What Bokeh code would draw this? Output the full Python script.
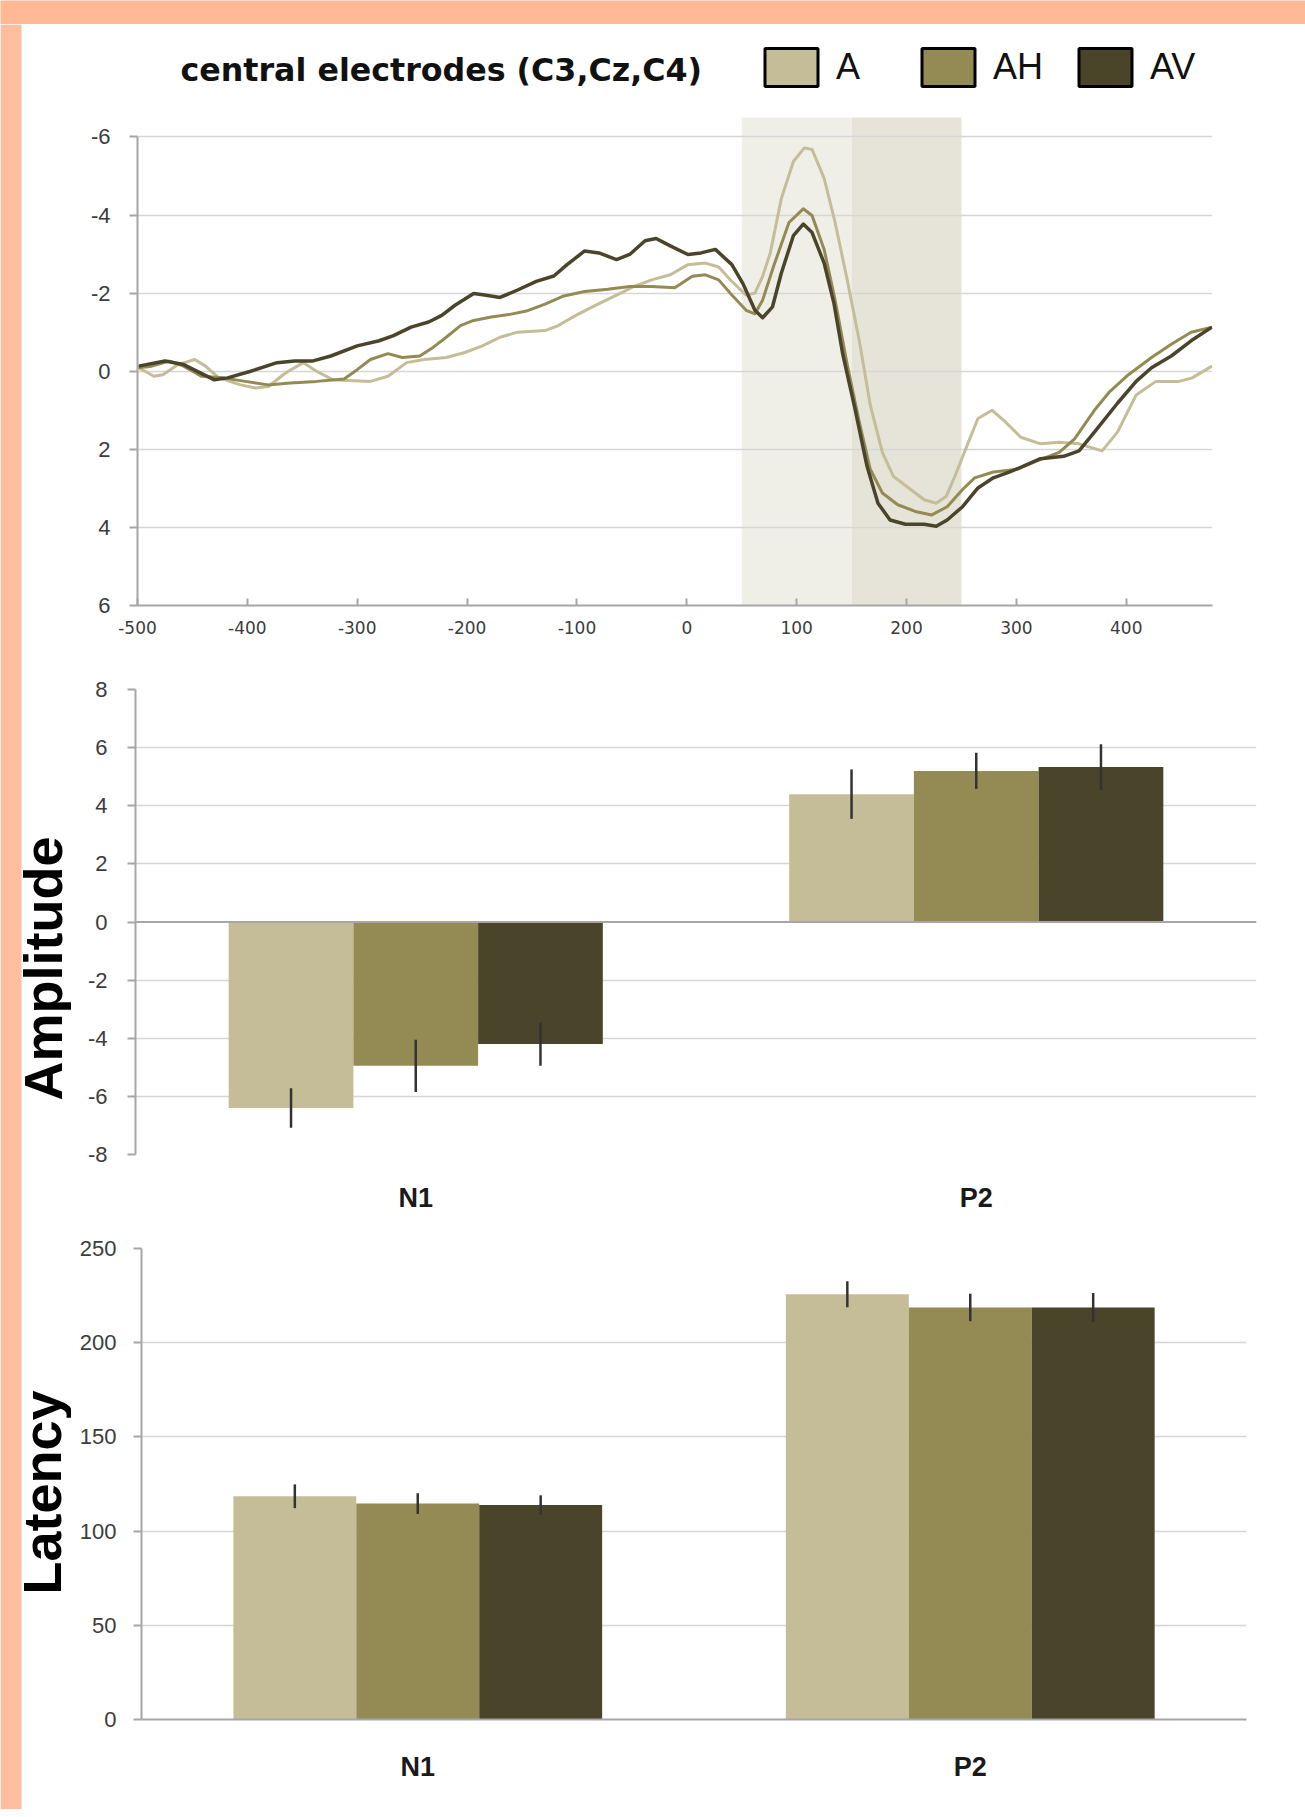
from math import pi
from bokeh.plotting import figure
from bokeh.models import (Range1d, FactorRange, FixedTicker, BoxAnnotation, Label,
                          Span, ColumnDataSource)
from bokeh.transform import dodge
from bokeh.layouts import column, row
from bokeh.embed import file_html
from bokeh.resources import INLINE

# ---------------- data ----------------
conditions = ["A", "AH", "AV"]
components = ["N1", "P2"]
chart_title = "central electrodes (C3,Cz,C4)"

# ERP waveforms (ms, microvolts; negative plotted up)
erp_t_A = [-499, -485, -477, -463, -448, -438, -426, -406, -393, -381, -365, -349, -337, -322, -308,
           -288, -272, -255, -239, -219, -202, -186, -170, -154, -129, -117, -101, -85, -64, -48,
           -32, -15, 1, 17, 29, 41, 54, 62, 69, 76, 86, 97, 107, 114, 125, 135, 146, 157, 167,
           178, 188, 202, 216, 227, 236, 244, 255, 265, 278, 290, 304, 322, 339, 357, 378, 392,
           409, 427, 448, 460, 478]
erp_v_A = [-0.09, 0.13, 0.09, -0.17, -0.30, -0.13, 0.17, 0.35, 0.43, 0.39, 0.04, -0.22, 0.0, 0.22, 0.24,
           0.26, 0.13, -0.22, -0.30, -0.35, -0.48, -0.65, -0.87, -1.00, -1.04, -1.17, -1.43, -1.66, -1.95, -2.17,
           -2.34, -2.47, -2.73, -2.77, -2.67, -2.30, -1.95, -2.00, -2.43, -3.03, -4.42, -5.37, -5.72, -5.68, -4.94,
           -3.81, -2.34, -0.78, 0.87, 2.08, 2.69, 2.99, 3.29, 3.38, 3.21, 2.69, 1.91, 1.21, 1.00, 1.30,
           1.69, 1.86, 1.82, 1.86, 2.04, 1.56, 0.61, 0.26, 0.26, 0.17, -0.13]

erp_t_AH = [-499, -487, -471, -458, -442, -422, -402, -381, -361, -337, -312, -300, -288, -272, -259,
            -243, -231, -219, -206, -194, -178, -162, -146, -129, -113, -93, -72, -52, -32, -11,
            5, 17, 29, 41, 54, 62, 69, 79, 93, 106, 114, 125, 135, 146, 157, 167, 178, 192, 209,
            223, 237, 251, 262, 279, 301, 318, 339, 353, 371, 385, 402, 423, 441, 459, 478]
erp_v_AH = [-0.09, -0.13, -0.26, -0.13, 0.13, 0.17, 0.26, 0.35, 0.30, 0.26, 0.20, -0.04, -0.30, -0.45, -0.35,
            -0.39, -0.61, -0.87, -1.17, -1.30, -1.39, -1.45, -1.54, -1.72, -1.92, -2.04, -2.10, -2.17, -2.17, -2.14,
            -2.43, -2.47, -2.34, -1.95, -1.56, -1.47, -1.82, -2.69, -3.81, -4.16, -3.99, -3.12, -1.82, -0.17, 1.30,
            2.51, 3.12, 3.42, 3.60, 3.68, 3.47, 3.03, 2.73, 2.58, 2.51, 2.30, 2.08, 1.73, 1.00, 0.52,
            0.09, -0.35, -0.69, -1.00, -1.13]

erp_t_AV = [-499, -475, -458, -430, -418, -397, -373, -357, -341, -324, -300, -280, -267, -251, -235,
            -223, -211, -194, -184, -170, -154, -137, -121, -109, -93, -80, -64, -52, -38, -28,
            -15, 1, 13, 26, 41, 51, 62, 69, 78, 86, 97, 106, 114, 125, 134, 142, 153, 164, 174,
            185, 199, 216, 227, 237, 251, 265, 279, 294, 308, 322, 343, 357, 371, 392, 409, 423,
            441, 459, 478]
erp_v_AV = [-0.13, -0.26, -0.17, 0.22, 0.17, 0.0, -0.22, -0.26, -0.26, -0.39, -0.65, -0.78, -0.91, -1.13, -1.26,
            -1.43, -1.69, -1.99, -1.95, -1.89, -2.08, -2.30, -2.44, -2.73, -3.08, -3.03, -2.86, -2.99, -3.34, -3.40,
            -3.21, -2.99, -3.03, -3.12, -2.73, -2.25, -1.56, -1.37, -1.65, -2.51, -3.47, -3.77, -3.55, -2.77, -1.73,
            -0.43, 0.95, 2.43, 3.38, 3.81, 3.92, 3.92, 3.97, 3.81, 3.47, 2.99, 2.73, 2.58, 2.41, 2.24,
            2.18, 2.04, 1.56, 0.82, 0.26, -0.09, -0.39, -0.78, -1.13]

# analysis windows (ms)
window_starts = [50, 150]
window_ends = [150, 250]

erp_x_ticks = [-500, -400, -300, -200, -100, 0, 100, 200, 300, 400]
erp_y_ticks = [-6, -4, -2, 0, 2, 4, 6]

# Amplitude (microvolts)
amp_A = [-6.4, 4.4]
amp_AH = [-4.95, 5.2]
amp_AV = [-4.2, 5.33]
amp_err_A = [0.68, 0.85]
amp_err_AH = [0.9, 0.62]
amp_err_AV = [0.75, 0.79]
amp_ticks = [-8, -6, -4, -2, 0, 2, 4, 6, 8]

# Latency (ms)
lat_A = [118.5, 225.7]
lat_AH = [114.6, 218.7]
lat_AV = [113.8, 218.7]
lat_err_A = [6.3, 6.9]
lat_err_AH = [5.5, 7.3]
lat_err_AV = [5.2, 7.7]
lat_ticks = [0, 50, 100, 150, 200, 250]

# ---------------- style ----------------
ORANGE_TOP = "#FFB994"
ORANGE_LEFT = "#FFBE9E"
COLORS = ["#C4BD97", "#948A54", "#4A452A"]
LINE_W = [3, 3, 3.5]
SHADES = ["#F0EFE7", "#E6E4D9"]
GRID = "#D6D6D6"
AXIS = "#A6A6A6"
TICKLAB = "#3C3C3C"
FONT = "Liberation Sans"

PAGE_W = 1305
LEFT_STRIP = 21
TOP_STRIP = 24
SIDE_W = 71            # left column: orange strip + rotated panel titles
PANEL_W = 1226
ERP_H = 626
AMP_H = 565
LAT_H = 594
SIDE_H = ERP_H + AMP_H + LAT_H

# legend geometry (screen px, relative to the waveform frame)
LEG_X0 = 627.5
LEG_PITCH = 157
LEG_BOX_W = 53
LEG_BOX_B = 519
LEG_BOX_H = 38
LEG_LABEL_DX = 71
LEG_LABEL_Y = 539.5
TITLE_X = 43
TITLE_Y = 536


def plain_labels(ticks):
    return {t: str(t) for t in ticks}


def style_y_axis(ax, ticks, standoff):
    ax.ticker = FixedTicker(ticks=ticks)
    ax.major_label_overrides = plain_labels(ticks)
    ax.axis_line_color = AXIS
    ax.axis_line_width = 2
    ax.major_tick_line_color = AXIS
    ax.major_tick_line_width = 2
    ax.major_tick_out = 8
    ax.major_tick_in = 0
    ax.minor_tick_line_color = None
    ax.major_label_text_font = FONT
    ax.major_label_text_font_size = "22px"
    ax.major_label_text_color = TICKLAB
    ax.major_label_standoff = standoff


def blank(w, h, color="white"):
    s = figure(width=w, height=h, output_backend="svg", toolbar_location=None, title=None,
               x_axis_type=None, y_axis_type=None, min_border=0,
               x_range=Range1d(0, w), y_range=Range1d(0, h))
    s.background_fill_color = color
    s.border_fill_color = color
    s.outline_line_color = None
    return s


# ---------------- ERP waveform panel (frame reaches up to hold title + legend) ----------------
p1 = figure(width=PANEL_W, height=ERP_H, x_range=Range1d(-500, 478.5), y_range=Range1d(6, -8.88),
            output_backend="svg", toolbar_location=None, title=None,
            min_border_left=66, min_border_right=85, min_border_top=0, min_border_bottom=45)
p1.outline_line_color = None
p1.xgrid.visible = False
p1.ygrid.ticker = FixedTicker(ticks=erp_y_ticks)
p1.ygrid.grid_line_color = GRID
p1.ygrid.grid_line_width = 1.5

for s, e, c in zip(window_starts, window_ends, SHADES):
    p1.add_layout(BoxAnnotation(left=s, right=e, top=-6.5, bottom=6, fill_color=c, fill_alpha=1.0,
                                line_color=None, level="image"))

style_y_axis(p1.yaxis[0], erp_y_ticks, 19)
p1.yaxis[0].bounds = (-6, 6)

xa = p1.xaxis[0]
xa.ticker = FixedTicker(ticks=erp_x_ticks)
xa.major_label_overrides = plain_labels(erp_x_ticks)
xa.axis_line_color = AXIS
xa.axis_line_width = 2
xa.major_tick_line_color = AXIS
xa.major_tick_line_width = 2
xa.major_tick_in = 7
xa.major_tick_out = 0
xa.minor_tick_line_color = None
xa.major_label_text_font = "DejaVu Sans"
xa.major_label_text_font_size = "17px"
xa.major_label_text_color = TICKLAB
xa.major_label_standoff = 15

for t, v, c, w in zip([erp_t_A, erp_t_AH, erp_t_AV], [erp_v_A, erp_v_AH, erp_v_AV], COLORS, LINE_W):
    p1.line(t, v, line_color=c, line_width=w, line_join="round")

# title
p1.add_layout(Label(x=TITLE_X, y=TITLE_Y, x_units="screen", y_units="screen", text=chart_title,
                    text_font="DejaVu Sans", text_font_style="bold", text_font_size="31.7px",
                    text_color="#111111", text_align="left", text_baseline="alphabetic"))
# legend swatches + labels
for i, (name, c) in enumerate(zip(conditions, COLORS)):
    x0 = LEG_X0 + i * LEG_PITCH
    p1.add_layout(BoxAnnotation(left=x0, right=x0 + LEG_BOX_W, bottom=LEG_BOX_B,
                                top=LEG_BOX_B + LEG_BOX_H,
                                left_units="screen", right_units="screen",
                                bottom_units="screen", top_units="screen",
                                fill_color=c, fill_alpha=1.0, line_color="black",
                                line_width=3, line_alpha=1.0))
    p1.add_layout(Label(x=x0 + LEG_LABEL_DX, y=LEG_LABEL_Y, x_units="screen", y_units="screen",
                        text=name, text_font=FONT, text_font_size="36px", text_color="#111111",
                        text_align="left", text_baseline="alphabetic"))


# ---------------- bar panels ----------------
def bar_panel(height, vals, errs, yr, ticks, mb, ystand, xstand, zero_span, xaxis_line):
    p = figure(width=PANEL_W, height=height, x_range=FactorRange(factors=components),
               y_range=Range1d(*yr), output_backend="svg", toolbar_location=None, title=None,
               min_border_left=mb[0], min_border_right=mb[1], min_border_top=mb[2],
               min_border_bottom=mb[3])
    p.outline_line_color = None
    p.xgrid.visible = False
    p.ygrid.ticker = FixedTicker(ticks=[t for t in ticks if t != 0])
    p.ygrid.grid_line_color = GRID
    p.ygrid.grid_line_width = 1.5

    offsets = [-0.2225, 0.0, 0.2225]
    for cond, off, c in zip(conditions, offsets, COLORS):
        v = vals[cond]
        e = errs[cond]
        src = ColumnDataSource(dict(comp=components, val=v,
                                    lo=[a - b for a, b in zip(v, e)],
                                    hi=[a + b for a, b in zip(v, e)]))
        p.vbar(x=dodge("comp", off, range=p.x_range), top="val", bottom=0, width=0.2225,
               source=src, fill_color=c, line_color=None)
        p.segment(x0=dodge("comp", off, range=p.x_range), y0="lo",
                  x1=dodge("comp", off, range=p.x_range), y1="hi",
                  source=src, line_color="#333333", line_width=2.5)

    if zero_span:
        p.add_layout(Span(location=0, dimension="width", line_color=AXIS, line_width=2))

    style_y_axis(p.yaxis[0], ticks, ystand)
    xa = p.xaxis[0]
    if xaxis_line:
        xa.axis_line_color = AXIS
        xa.axis_line_width = 2
    else:
        xa.axis_line_color = None
    xa.major_tick_line_color = None
    xa.minor_tick_line_color = None
    xa.major_label_text_font = FONT
    xa.major_label_text_font_style = "bold"
    xa.major_label_text_font_size = "27px"
    xa.major_label_text_color = "#1a1a1a"
    xa.major_label_standoff = xstand
    return p


p2 = bar_panel(AMP_H, dict(A=amp_A, AH=amp_AH, AV=amp_AV),
               dict(A=amp_err_A, AH=amp_err_AH, AV=amp_err_AV),
               (-8, 8), amp_ticks, (64, 41, 39, 55), 20, 22, True, False)

p3 = bar_panel(LAT_H, dict(A=lat_A, AH=lat_AH, AV=lat_AV),
               dict(A=lat_err_A, AH=lat_err_AH, AV=lat_err_AV),
               (0, 250), lat_ticks, (70, 51, 33, 90), 17, 26, False, True)

# ---------------- left column: orange page strip + rotated panel titles ----------------
side = blank(SIDE_W, SIDE_H)
side.add_layout(BoxAnnotation(right=LEFT_STRIP, fill_color=ORANGE_LEFT, fill_alpha=1.0,
                              line_color=None, level="image"))
for text, cx, cy in [("Amplitude", 42, 841), ("Latency", 41, 317)]:
    side.add_layout(Label(x=cx, y=cy, text=text, angle=pi / 2, text_align="center",
                          text_baseline="middle", text_font=FONT, text_font_style="bold",
                          text_font_size="54px", text_color="black"))

top_strip = blank(PAGE_W, TOP_STRIP, ORANGE_TOP)

layout = column(top_strip,
                row(side, column(row(p1), row(p2), row(p3))))

open("out.html", "w").write(file_html(layout, INLINE))
